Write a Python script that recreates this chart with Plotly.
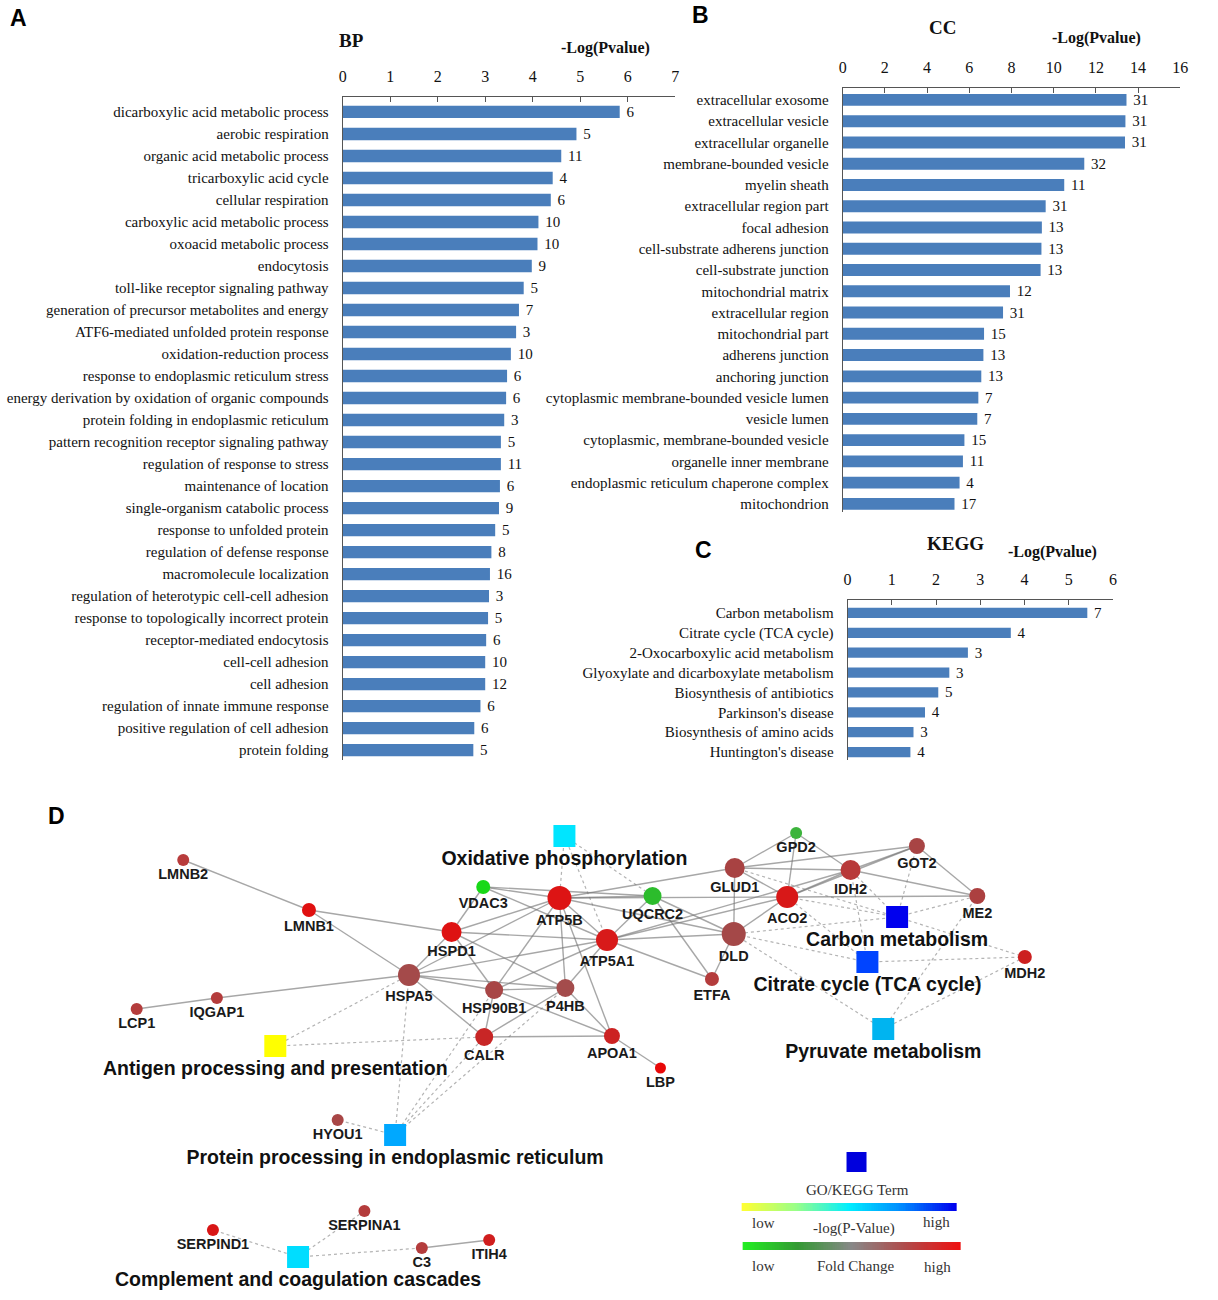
import plotly.graph_objects as go
import numpy as np

# ---------------- data ----------------
bp_terms = ["dicarboxylic acid metabolic process", "aerobic respiration", "organic acid metabolic process",
            "tricarboxylic acid cycle", "cellular respiration", "carboxylic acid metabolic process",
            "oxoacid metabolic process", "endocytosis", "toll-like receptor signaling pathway",
            "generation of precursor metabolites and energy", "ATF6-mediated unfolded protein response",
            "oxidation-reduction process", "response to endoplasmic reticulum stress",
            "energy derivation by oxidation of organic compounds", "protein folding in endoplasmic reticulum",
            "pattern recognition receptor signaling pathway", "regulation of response to stress",
            "maintenance of location", "single-organism catabolic process", "response to unfolded protein",
            "regulation of defense response", "macromolecule localization",
            "regulation of heterotypic cell-cell adhesion", "response to topologically incorrect protein",
            "receptor-mediated endocytosis", "cell-cell adhesion", "cell adhesion",
            "regulation of innate immune response", "positive regulation of cell adhesion", "protein folding"]
bp_logp = [5.83, 4.92, 4.60, 4.42, 4.38, 4.12, 4.10, 3.98, 3.81, 3.71, 3.65, 3.54, 3.46, 3.44, 3.40,
           3.33, 3.33, 3.31, 3.29, 3.21, 3.13, 3.10, 3.08, 3.06, 3.02, 3.00, 3.00, 2.90, 2.77, 2.75]
bp_counts = [6, 5, 11, 4, 6, 10, 10, 9, 5, 7, 3, 10, 6, 6, 3, 5, 11, 6, 9, 5, 8, 16, 3, 5, 6, 10, 12, 6, 6, 5]

cc_terms = ["extracellular exosome", "extracellular vesicle", "extracellular organelle",
            "membrane-bounded vesicle", "myelin sheath", "extracellular region part", "focal adhesion",
            "cell-substrate adherens junction", "cell-substrate junction", "mitochondrial matrix",
            "extracellular region", "mitochondrial part", "adherens junction", "anchoring junction",
            "cytoplasmic membrane-bounded vesicle lumen", "vesicle lumen",
            "cytoplasmic, membrane-bounded vesicle", "organelle inner membrane",
            "endoplasmic reticulum chaperone complex", "mitochondrion"]
cc_logp = [13.45, 13.40, 13.38, 11.45, 10.50, 9.62, 9.44, 9.42, 9.38, 7.93, 7.60, 6.70, 6.67, 6.57,
           6.43, 6.38, 5.77, 5.70, 5.54, 5.30]
cc_counts = [31, 31, 31, 32, 11, 31, 13, 13, 13, 12, 31, 15, 13, 13, 7, 7, 15, 11, 4, 17]

kegg_terms = ["Carbon metabolism", "Citrate cycle (TCA cycle)", "2-Oxocarboxylic acid metabolism",
              "Glyoxylate and dicarboxylate metabolism", "Biosynthesis of antibiotics", "Parkinson's disease",
              "Biosynthesis of amino acids", "Huntington's disease"]
kegg_logp = [5.42, 3.69, 2.72, 2.30, 2.05, 1.75, 1.49, 1.42]
kegg_counts = [7, 4, 3, 3, 5, 4, 3, 4]

# network: gene nodes
genes = ["LMNB2", "LMNB1", "VDAC3", "ATP5B", "UQCRC2", "GPD2", "GLUD1", "IDH2", "GOT2", "ACO2", "ME2",
         "MDH2", "DLD", "ATP5A1", "HSPD1", "HSPA5", "HSP90B1", "P4HB", "ETFA", "IQGAP1", "LCP1", "CALR",
         "APOA1", "LBP", "HYOU1", "SERPIND1", "SERPINA1", "C3", "ITIH4"]
terms = ["Oxidative phosphorylation", "Carbon metabolism", "Citrate cycle (TCA cycle)", "Pyruvate metabolism",
         "Antigen processing and presentation", "Protein processing in endoplasmic reticulum",
         "Complement and coagulation cascades"]

gene_gene_edges = [
    ("LMNB2", "LMNB1"), ("LMNB1", "HSPD1"), ("LMNB1", "HSPA5"), ("LCP1", "IQGAP1"), ("IQGAP1", "HSPA5"),
    ("HSPA5", "HSPD1"), ("HSPA5", "ATP5A1"), ("HSPA5", "HSP90B1"), ("HSPA5", "P4HB"), ("HSPA5", "CALR"),
    ("HSPA5", "ATP5B"), ("HSPD1", "VDAC3"), ("HSPD1", "ATP5B"), ("HSPD1", "ATP5A1"), ("HSPD1", "HSP90B1"),
    ("HSPD1", "P4HB"), ("VDAC3", "ATP5B"), ("VDAC3", "ATP5A1"), ("VDAC3", "UQCRC2"), ("ATP5B", "ATP5A1"),
    ("ATP5B", "UQCRC2"), ("ATP5B", "ACO2"), ("ATP5B", "GLUD1"), ("ATP5B", "P4HB"), ("ATP5B", "HSP90B1"),
    ("ATP5B", "APOA1"), ("ATP5B", "DLD"), ("ATP5A1", "DLD"), ("ATP5A1", "UQCRC2"), ("ATP5A1", "P4HB"),
    ("ATP5A1", "ETFA"), ("ATP5A1", "ACO2"), ("ATP5A1", "IDH2"), ("UQCRC2", "DLD"), ("UQCRC2", "ETFA"),
    ("GLUD1", "GPD2"), ("GLUD1", "IDH2"), ("GLUD1", "GOT2"), ("GLUD1", "DLD"), ("GLUD1", "ACO2"),
    ("GPD2", "IDH2"), ("IDH2", "ACO2"), ("IDH2", "GOT2"), ("IDH2", "ME2"), ("ACO2", "DLD"), ("ACO2", "GOT2"),
    ("ACO2", "ME2"), ("GOT2", "ME2"), ("DLD", "ETFA"), ("HSP90B1", "P4HB"), ("HSP90B1", "CALR"),
    ("P4HB", "CALR"), ("P4HB", "APOA1"), ("CALR", "APOA1"), ("HSP90B1", "APOA1"), ("APOA1", "LBP"),
    ("C3", "ITIH4"), ("ATP5A1", "HSP90B1"), ("GPD2", "ACO2")]

term_gene_edges = [
    ("Oxidative phosphorylation", "ATP5B"), ("Oxidative phosphorylation", "ATP5A1"),
    ("Oxidative phosphorylation", "UQCRC2"),
    ("Carbon metabolism", "GLUD1"), ("Carbon metabolism", "IDH2"), ("Carbon metabolism", "ACO2"),
    ("Carbon metabolism", "DLD"), ("Carbon metabolism", "GOT2"), ("Carbon metabolism", "ME2"),
    ("Carbon metabolism", "MDH2"),
    ("Citrate cycle (TCA cycle)", "IDH2"), ("Citrate cycle (TCA cycle)", "ACO2"),
    ("Citrate cycle (TCA cycle)", "DLD"), ("Citrate cycle (TCA cycle)", "MDH2"),
    ("Pyruvate metabolism", "DLD"), ("Pyruvate metabolism", "ME2"), ("Pyruvate metabolism", "MDH2"),
    ("Antigen processing and presentation", "HSPA5"), ("Antigen processing and presentation", "CALR"),
    ("Protein processing in endoplasmic reticulum", "HSPA5"),
    ("Protein processing in endoplasmic reticulum", "HSP90B1"),
    ("Protein processing in endoplasmic reticulum", "P4HB"),
    ("Protein processing in endoplasmic reticulum", "CALR"),
    ("Protein processing in endoplasmic reticulum", "HYOU1"),
    ("Complement and coagulation cascades", "SERPIND1"), ("Complement and coagulation cascades", "SERPINA1"),
    ("Complement and coagulation cascades", "C3")]

# ---------------- network layout (node placement, styles) ----------------
gene_layout = {  # name: (x, y, diameter, colour)
    "LMNB2": (181, 860, 12, "#b83c3c"), "LMNB1": (308, 910, 14, "#e01010"),
    "VDAC3": (484, 887, 14, "#18d818"), "ATP5B": (561, 898, 24, "#dd1414"),
    "UQCRC2": (655, 896, 18, "#2cbc2c"), "GPD2": (800, 833, 12, "#3cb43c"),
    "GLUD1": (738, 868, 20, "#a84242"), "IDH2": (855, 870, 20, "#b83a3a"),
    "GOT2": (922, 846, 16, "#a84444"), "ACO2": (791, 897, 22, "#d81818"),
    "ME2": (983, 896, 16, "#ac4040"), "MDH2": (1031, 957, 14, "#cc2020"),
    "DLD": (737, 934, 24, "#a44848"), "ATP5A1": (609, 940, 22, "#d81a1a"),
    "HSPD1": (452, 932, 20, "#de1212"), "HSPA5": (409, 975, 22, "#a44a4a"),
    "HSP90B1": (495, 990, 18, "#a84646"), "P4HB": (567, 988, 18, "#a44c4c"),
    "ETFA": (715, 979, 14, "#b43c3c"), "IQGAP1": (215, 998, 12, "#b43c3c"),
    "LCP1": (134, 1009, 12, "#b43c3c"), "CALR": (485, 1037, 18, "#c82626"),
    "APOA1": (614, 1036, 16, "#cc2222"), "LBP": (663, 1068, 11, "#e80808"),
    "HYOU1": (337, 1120, 12, "#a84646"), "SERPIND1": (211, 1230, 12, "#d81616"),
    "SERPINA1": (364, 1211, 12, "#b43c3c"), "C3": (422, 1248, 12, "#b43c3c"),
    "ITIH4": (490, 1240, 12, "#d01e1e"),
}
term_layout = {
    "Oxidative phosphorylation": (566, 836, "#00e5ff"),
    "Carbon metabolism": (902, 917, "#0000ee"),
    "Citrate cycle (TCA cycle)": (872, 962, "#0044ff"),
    "Pyruvate metabolism": (888, 1029, "#00b4f0"),
    "Antigen processing and presentation": (274, 1046, "#ffff00"),
    "Protein processing in endoplasmic reticulum": (395, 1135, "#00a8ff"),
    "Complement and coagulation cascades": (297, 1257, "#00ddff"),
}

W, H = 1218, 1300
SERIF = "Liberation Serif, Times New Roman, serif"
SANS = "Liberation Sans, Arial, sans-serif"
BAR = "#4a7ebb"


def px(x):
    return x / W


def py(y):
    return 1 - y / H


fig = go.Figure()


def add_bar_panel(names, vals, counts, xa, ya, bw):
    n = len(names)
    fig.add_trace(go.Bar(
        x=vals, y=list(range(n)), orientation="h", width=bw,
        marker=dict(color=BAR, line=dict(width=0)),
        text=[str(c) for c in counts], texttemplate="\u2005%{text}", textposition="outside",
        constraintext="none",
        textfont=dict(family=SERIF, size=15, color="#111"), cliponaxis=False,
        xaxis=xa, yaxis=ya, showlegend=False, hoverinfo="skip"))


add_bar_panel(bp_terms, bp_logp, bp_counts, "x", "y", 0.56)
add_bar_panel(cc_terms, cc_logp, cc_counts, "x2", "y2", 0.56)
add_bar_panel(kegg_terms, kegg_logp, kegg_counts, "x3", "y3", 0.52)


def xax(dom, rng, dtick, anchor):
    return dict(domain=dom, range=rng, dtick=dtick, side="top", anchor=anchor, showline=True,
                linecolor="#555", linewidth=1, ticks="inside", ticklen=5, tickcolor="#555",
                tickfont=dict(family=SERIF, size=16, color="#111"), showgrid=False, zeroline=False,
                ticklabelstandoff=8, fixedrange=True)


def yax(dom, rng, names, anchor):
    return dict(domain=dom, range=rng, anchor=anchor, tickvals=list(range(len(names))), ticktext=names,
                showline=True, linecolor="#555", linewidth=1, ticks="", showgrid=False, zeroline=False,
                tickfont=dict(family=SERIF, size=15, color="#111"), ticklabelstandoff=10, fixedrange=True)


fig.update_layout(
    xaxis=xax([px(342), px(678)], [0, 7], 1, "y"),
    yaxis=yax([py(760), py(97)], [29.45, -0.68], bp_terms, "x"),
    xaxis2=xax([px(847), px(1188)], [0, 16], 2, "y2"),
    yaxis2=yax([py(512), py(88)], [19.38, -0.56], cc_terms, "x2"),
    xaxis3=xax([px(852), px(1120)], [0, 6], 1, "y3"),
    yaxis3=yax([py(760), py(600)], [7.4, -0.65], kegg_terms, "x3"),
    xaxis4=dict(domain=[0, 1], range=[0, W], visible=False, fixedrange=True, anchor="y4"),
    yaxis4=dict(domain=[0, py(790)], range=[H, 790], visible=False, fixedrange=True, anchor="x4"),
)

# ---------------- network ----------------
pos = {k: (v[0], v[1]) for k, v in gene_layout.items()}
pos.update({k: (v[0], v[1]) for k, v in term_layout.items()})


def edge_xy(edges):
    xs, ys = [], []
    for a, b in edges:
        xs += [pos[a][0], pos[b][0], None]
        ys += [pos[a][1], pos[b][1], None]
    return xs, ys


ex, ey = edge_xy(term_gene_edges)
fig.add_trace(go.Scatter(x=ex, y=ey, mode="lines", line=dict(color="#b4b4b4", width=1.2, dash="3px,3px"),
                         xaxis="x4", yaxis="y4", showlegend=False, hoverinfo="skip"))
ex, ey = edge_xy(gene_gene_edges)
fig.add_trace(go.Scatter(x=ex, y=ey, mode="lines", line=dict(color="rgba(120,120,120,0.65)", width=1.4),
                         xaxis="x4", yaxis="y4", showlegend=False, hoverinfo="skip"))

fig.add_trace(go.Scatter(
    x=[gene_layout[g][0] for g in genes], y=[gene_layout[g][1] for g in genes],
    mode="markers+text", text=genes, textposition="bottom center",
    textfont=dict(family=SANS, size=14.5, color="#1a1a1a", weight="bold"),
    marker=dict(size=[gene_layout[g][2] for g in genes], color=[gene_layout[g][3] for g in genes],
                line=dict(width=0), opacity=1),
    xaxis="x4", yaxis="y4", showlegend=False, hoverinfo="skip", cliponaxis=False))

fig.add_trace(go.Scatter(
    x=[term_layout[t][0] for t in terms], y=[term_layout[t][1] for t in terms],
    mode="markers+text", text=terms, textposition="bottom center",
    textfont=dict(family=SANS, size=19.5, color="#111", weight="bold"),
    marker=dict(size=22, symbol="square", color=[term_layout[t][2] for t in terms], line=dict(width=0),
                opacity=1),
    xaxis="x4", yaxis="y4", showlegend=False, hoverinfo="skip", cliponaxis=False))

# legend of network
fig.add_trace(go.Scatter(x=[861], y=[1162], mode="markers",
                         marker=dict(size=20, symbol="square", color="#0000dd"),
                         xaxis="x4", yaxis="y4", showlegend=False, hoverinfo="skip"))
nstep = 120
fig.add_trace(go.Heatmap(
    x=np.linspace(745, 962, nstep + 1), y=[1203, 1211], z=[list(range(nstep))],
    colorscale=[[0, "#ffff33"], [0.25, "#99ff88"], [0.5, "#00eeff"], [0.75, "#0088ff"], [1, "#0000ee"]],
    showscale=False, xaxis="x4", yaxis="y4", hoverinfo="skip"))
fig.add_trace(go.Heatmap(
    x=np.linspace(746, 966, nstep + 1), y=[1242, 1250], z=[list(range(nstep))],
    colorscale=[[0, "#22ee22"], [0.25, "#339933"], [0.5, "#888888"], [0.75, "#b04a4a"], [1, "#ee1111"]],
    showscale=False, xaxis="x4", yaxis="y4", hoverinfo="skip"))

ann = []


def txt(x, y, s, size, family=SERIF, bold=False, color="#111", ref="paper"):
    if ref == "paper":
        xx, yy, xr, yr = px(x), py(y), "paper", "paper"
    else:
        xx, yy, xr, yr = x, y, "x4", "y4"
    ann.append(dict(x=xx, y=yy, xref=xr, yref=yr, text=s, showarrow=False, xanchor="center",
                    yanchor="middle", font=dict(family=family, size=size, color=color,
                                                weight="bold" if bold else "normal")))


txt(15, 18, "A", 23, SANS, True, "#000")
txt(703, 15, "B", 23, SANS, True, "#000")
txt(706, 550, "C", 23, SANS, True, "#000")
txt(53, 816, "D", 23, SANS, True, "#000")
txt(351, 40, "BP", 19, SERIF, True)
txt(607, 48, "-Log(Pvalue)", 16, SERIF, True)
txt(948, 28, "CC", 19, SERIF, True)
txt(1103, 38, "-Log(Pvalue)", 16, SERIF, True)
txt(961, 543, "KEGG", 19, SERIF, True)
txt(1059, 552, "-Log(Pvalue)", 16, SERIF, True)

txt(862, 1190, "GO/KEGG Term", 15, SERIF, False, "#333", ref="x4")
txt(767, 1223, "low", 15, SERIF, False, "#333", ref="x4")
txt(858, 1228, "-log(P-Value)", 15, SERIF, False, "#333", ref="x4")
txt(942, 1222, "high", 15, SERIF, False, "#333", ref="x4")
txt(767, 1266, "low", 15, SERIF, False, "#333", ref="x4")
txt(860, 1266, "Fold Change", 15, SERIF, False, "#333", ref="x4")
txt(943, 1267, "high", 15, SERIF, False, "#333", ref="x4")

fig.update_layout(width=W, height=H, margin=dict(l=0, r=0, t=0, b=0), paper_bgcolor="white",
                  plot_bgcolor="rgba(0,0,0,0)", annotations=ann, bargap=0.4)

fig.write_html("out.html", config={"displayModeBar": False},
               post_script="document.body.style.margin='0';document.body.style.padding='0';")
